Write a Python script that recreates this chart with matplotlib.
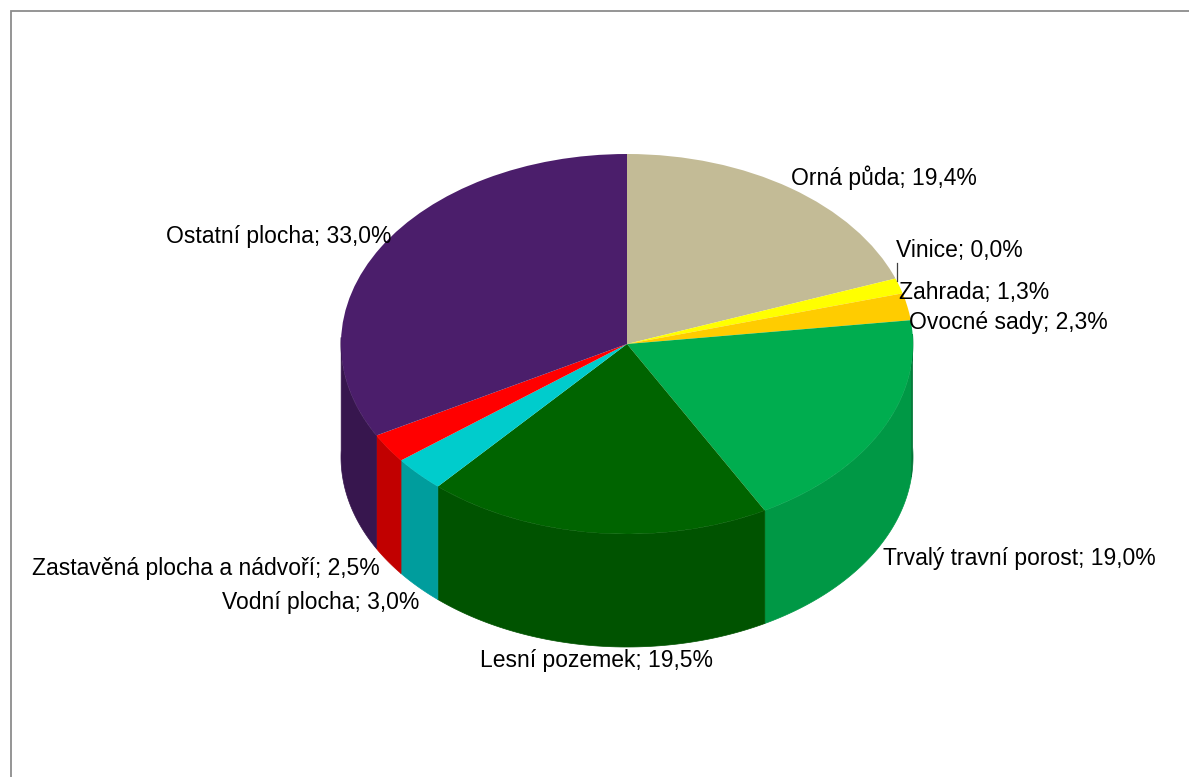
import numpy as np
import matplotlib.pyplot as plt
from matplotlib.transforms import Affine2D
from matplotlib.patches import Polygon, Rectangle
from matplotlib.colors import to_rgb

plt.rcParams['font.family'] = ['Liberation Sans', 'DejaVu Sans']

categories = ['Orná půda', 'Vinice', 'Zahrada', 'Ovocné sady', 'Trvalý travní porost',
              'Lesní pozemek', 'Vodní plocha', 'Zastavěná plocha a nádvoří', 'Ostatní plocha']
shares = [19.4, 0.0, 1.3, 2.3, 19.0, 19.5, 3.0, 2.5, 33.0]
colors = ['#C3BB96', '#E8E8B0', '#FFFF00', '#FFCC00', '#00AD4F',
          '#006400', '#00CCCC', '#FF0000', '#4B1E6B']

# label layout (pixel coords of the reference: x, y, horizontal alignment)
label_pos = [(791, 178, 'left'), (896, 250, 'left'), (899, 293, 'left'), (909, 323, 'left'),
             (883, 558, 'left'), (597, 661, 'center'), (419, 602, 'right'), (380, 568, 'right'),
             (392, 237, 'right')]

W, H = 1189, 777
cx, cy = 627, H - 344   # pie centre
rx, ry = 286, 190       # top ellipse radii
depth = 113             # height of the side wall

fig = plt.figure(figsize=(W / 100, H / 100), dpi=100)
ax = fig.add_axes([0, 0, 1, 1])


def wall(a, b, rgb):
    th = np.radians(np.linspace(a, b, 80))
    xs = cx + rx * np.cos(th)
    ys = cy + ry * np.sin(th)
    pts = np.concatenate([np.column_stack([xs, ys]),
                          np.column_stack([xs[::-1], ys[::-1] - depth])])
    ax.add_patch(Polygon(pts, closed=True, facecolor=rgb, edgecolor=rgb, linewidth=0.5))


# side walls (front half only)
edges = 90 - 3.6 * np.concatenate([[0], np.cumsum(shares)])
for i, col in enumerate(colors):
    t1, t2 = edges[i], edges[i + 1]
    lo, hi = max(t2, -182), min(t1, 3)
    if hi <= lo:
        continue
    base = np.array(to_rgb(col))
    m = np.radians((lo + hi) / 2)
    f = 0.79 + 0.09 * np.cos(m + np.radians(35))
    if hi > -6:
        wall(lo, -6, base * f)
        wall(-6, hi, base * (f - 0.2))
    else:
        wall(lo, hi, base * f)

# top face
wedges, _ = ax.pie(shares, colors=colors, startangle=90, counterclock=False,
                   wedgeprops=dict(linewidth=0))
tr = Affine2D().scale(rx, ry).translate(cx, cy) + ax.transData
for w in wedges:
    w.set_transform(tr)

ax.set_xlim(0, W)
ax.set_ylim(0, H)
ax.set_aspect('auto')
ax.axis('off')

# labels
for name, val, (lx, ly, ha) in zip(categories, shares, label_pos):
    txt = f'{name}; {val:.1f}%'.replace('.', ',')
    ax.text(lx, H - ly, txt, fontsize=16.5, ha=ha, va='center', color='#000000')

# leader line for Vinice
ax.plot([897, 897], [H - 263, H - 281], color='#404040', linewidth=0.9)

# chart frame
ax.add_patch(Rectangle((11, -5), W + 20, H - 11 + 5, fill=False, edgecolor='#8C8C8C',
                       linewidth=1.3))

fig.savefig('out.png', dpi=100)
